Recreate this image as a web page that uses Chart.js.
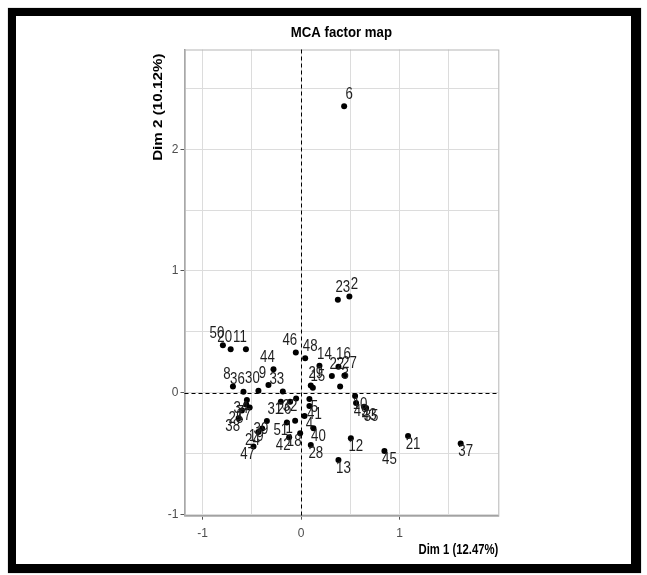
<!DOCTYPE html>
<html>
<head>
<meta charset="utf-8">
<script src="https://cdn.jsdelivr.net/npm/chart.js@4/dist/chart.umd.min.js"></script>
<style>
  body { margin: 0; background: #fff; }
  #wrap { position: relative; width: 647px; height: 575px; }
  #frame {
    position: absolute; left: 8px; top: 8px; width: 633px; height: 565px;
    box-sizing: border-box; border: 8px solid #000; border-right-width: 10px; border-bottom-width: 9px;
    box-shadow: 0 0 1px #777; pointer-events: none;
  }
</style>
</head>
<body>
<div id="wrap">
  <canvas id="grafica" width="647" height="575"></canvas>
  <div id="frame"></div>
</div>
<script>
// individuos (etiquetas) y coordenadas
const etiquetas = ['6','2','23','50','20','11','46','48','44','14','16','22','27','3','29','15','8','9','36','30','33',
  '10','49','43','35','12','13','45','21','37','40','28','41','5','4','31','26','32','18','42','51','1','47',
  '34','7','17','25','38','24','39','19'];
const dim1 = [0.437, 0.490, 0.373, -0.795, -0.716, -0.561, -0.054, 0.041, -0.281, 0.186, 0.379, 0.312, 0.440, 0.396, 0.098, 0.119, -0.693, -0.332, -0.586, -0.434, -0.186,
  0.548, 0.558, 0.640, 0.660, 0.505, 0.379, 0.846, 1.086, 1.621, 0.125, 0.098, 0.084, 0.084, 0.034, -0.206, -0.112, -0.051, -0.010, -0.122, -0.145, -0.061, -0.484,
  -0.551, -0.558, -0.523, -0.602, -0.635, -0.434, -0.348, -0.396];
const dim2 = [2.354, 0.790, 0.763, 0.390, 0.357, 0.357, 0.330, 0.283, 0.191, 0.220, 0.212, 0.136, 0.141, 0.051, 0.059, 0.039, 0.051, 0.062, 0.007, 0.015, 0.008,
  -0.029, -0.086, -0.117, -0.127, -0.376, -0.555, -0.481, -0.357, -0.418, -0.294, -0.431, -0.111, -0.053, -0.193, -0.075, -0.075, -0.048, -0.335, -0.368, -0.245, -0.232, -0.444,
  -0.062, -0.097, -0.123, -0.148, -0.210, -0.325, -0.234, -0.296];

const ticksX = [-1, -0.5, 0, 0.5, 1, 1.5];
const ticksY = [-1, -0.5, 0, 0.5, 1, 1.5, 2, 2.5];

const titulo = 'MCA factor map';
const tituloX = 'Dim 1 (12.47%)';
const tituloY = 'Dim 2 (10.12%)';

const gris = '#dcdcdc';

// lineas punteadas en 0, marco del panel
const ejesCero = {
    id: 'ejesCero',
    beforeDatasetsDraw(chart) {
        const { ctx, chartArea: a, scales } = chart;
        const x0 = Math.round(scales.x.getPixelForValue(0)) + 0.5;
        const y0 = Math.round(scales.y.getPixelForValue(0)) + 0.5;
        ctx.save();
        ctx.strokeStyle = '#b5b5b5';
        ctx.lineWidth = 1;
        ctx.strokeRect(a.left + 0.5, a.top + 0.5, a.width, a.height);
        ctx.strokeStyle = '#000';
        ctx.setLineDash([4, 3]);
        ctx.beginPath();
        ctx.moveTo(x0, a.top); ctx.lineTo(x0, a.bottom);
        ctx.moveTo(a.left, y0); ctx.lineTo(a.right, y0);
        ctx.stroke();
        ctx.restore();
    }
};

// etiquetas de los puntos y titulos
const textos = {
    id: 'textos',
    afterDraw(chart) {
        const { ctx, chartArea: a } = chart;
        const meta = chart.getDatasetMeta(0);
        ctx.save();
        ctx.fillStyle = '#1e1e1e';
        ctx.font = '17px "Liberation Sans", Arial, sans-serif';
        ctx.textAlign = 'center';
        ctx.textBaseline = 'middle';
        meta.data.forEach((p, i) => {
            const dx = dim1[i] >= 0 ? 5 : -6;
            const dy = dim2[i] >= 0 ? -12 : 8;
            ctx.save();
            ctx.translate(p.x + dx, p.y + dy);
            ctx.scale(0.78, 1);
            ctx.fillText(etiquetas[i], 0, 0);
            ctx.restore();
        });

        ctx.fillStyle = '#000';
        // titulo
        ctx.save();
        ctx.font = 'bold 15px "Liberation Sans", Arial, sans-serif';
        ctx.translate((a.left + a.right) / 2, 33);
        ctx.scale(0.88, 1);
        ctx.fillText(titulo, 0, 0);
        ctx.restore();
        // eje x
        ctx.save();
        ctx.font = 'bold 13px "Liberation Sans", Arial, sans-serif';
        ctx.textAlign = 'right';
        ctx.translate(a.right, 550);
        ctx.scale(0.87, 1.1);
        ctx.fillText(tituloX, 0, 0);
        ctx.restore();
        // eje y
        ctx.save();
        ctx.font = 'bold 13px "Liberation Sans", Arial, sans-serif';
        ctx.textAlign = 'right';
        ctx.translate(159, a.top + 4);
        ctx.rotate(-Math.PI / 2);
        ctx.scale(1.17, 0.95);
        ctx.fillText(tituloY, 0, 0);
        ctx.restore();
        ctx.restore();
    }
};

const ejeComun = (ticks, min, max, ancho) => ({
    type: 'linear',
    min: min,
    max: max,
    afterBuildTicks: s => { s.ticks = ticks.map(v => ({ value: v })); },
    afterFit: s => { if (s.isHorizontal()) s.height = ancho; else s.width = ancho; },
    grid: {
        color: gris,
        lineWidth: 1,
        tickLength: 4,
        tickColor: c => Number.isInteger(c.tick.value) ? '#555' : 'rgba(0,0,0,0)'
    },
    border: { display: true, color: '#9a9a9a', width: 1.5 },
    ticks: {
        color: '#4d4d4d',
        font: { family: '"Liberation Sans", Arial, sans-serif', size: 12 },
        callback: v => Number.isInteger(v) ? String(v) : ''
    }
});

const escalaX = ejeComun(ticksX, -1.185, 2.003, 40);
escalaX.ticks.padding = 7;
escalaX.ticks.maxRotation = 0;
const escalaY = ejeComun(ticksY, -1.012, 2.82, 40);
escalaY.ticks.padding = 2;

new Chart(document.getElementById('grafica'), {
    type: 'scatter',
    data: {
        datasets: [{
            data: dim1.map((x, i) => ({ x: x, y: dim2[i] })),
            backgroundColor: '#000',
            borderWidth: 0,
            pointRadius: 3
        }]
    },
    options: {
        responsive: false,
        animation: false,
        layout: { padding: { left: 144.5, top: 49.5, right: 148.7, bottom: 19.3 } },
        scales: { x: escalaX, y: escalaY },
        plugins: { legend: { display: false }, tooltip: { enabled: false } }
    },
    plugins: [ejesCero, textos]
});
</script>
</body>
</html>
